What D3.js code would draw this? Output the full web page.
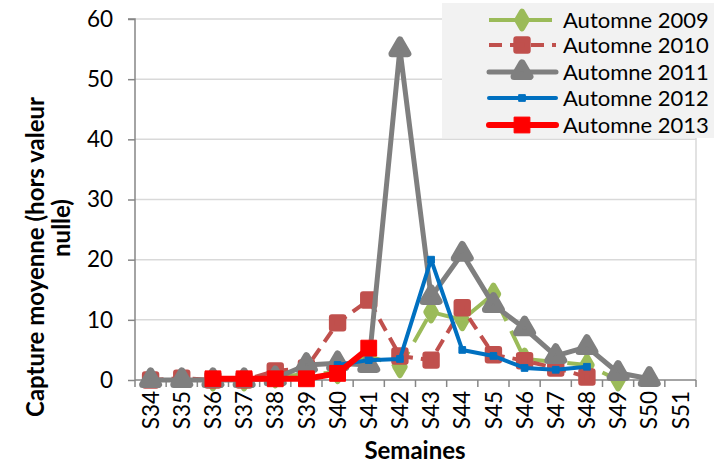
<!DOCTYPE html>
<html><head><meta charset="utf-8">
<script src="https://cdn.jsdelivr.net/npm/d3@7"></script>
<style>body{margin:0;background:#fff}svg{display:block}text{font-family:Lato,"Open Sans",sans-serif}</style>
</head><body><svg id="c" width="720" height="463"></svg>
<script>
const categories = ["S34","S35","S36","S37","S38","S39","S40","S41","S42","S43","S44","S45","S46","S47","S48","S49","S50","S51"];
const seriesNames = ["Automne 2009","Automne 2010","Automne 2011","Automne 2012","Automne 2013"];
const v2009 = [null,null,0,0,0.5,1,1.2,4,2.2,11.3,10,14.3,3.5,3,2.5,0,null,null];
const v2010 = [0,0.3,0,0,1.5,2,9.5,13.3,4,3.3,12,4.2,3.2,2,0.5,null,null,null];
const v2011 = [0,0,0,0,0.3,2.5,2.8,2.5,55,13.8,21,12.5,8.6,4,5.5,1.2,0.2,null];
const v2012 = [null,null,null,null,null,null,2.5,3.3,3.5,20,5,4,2,1.7,2.2,null,null,null];
const v2013 = [null,null,0.2,0.2,0.2,0.2,1.1,5.3,null,null,null,null,null,null,null,null,null,null];
const yTicks = [0,10,20,30,40,50,60];

const styles = [
  {color:"#9bbb59", width:4, dash:"26,11", sym:d3.symbolDiamond, size:80, sw:6},
  {color:"#c0504d", width:4, dash:"13,8", sym:d3.symbolSquare, size:130, sw:6},
  {color:"#7f7f7f", width:5, dash:null, sym:d3.symbolTriangle, size:110, sw:7},
  {color:"#0070c0", width:4, dash:null, sym:d3.symbolSquare, size:45, sw:1},
  {color:"#ff0000", width:6, dash:null, sym:d3.symbolSquare, size:250, sw:1}
];
const allVals = [v2009,v2010,v2011,v2012,v2013];

const svg = d3.select("#c");
const L=135, R=696, T=19, B=380;
const x = d3.scaleBand().domain(categories).range([L,R]);
const y = d3.scaleLinear().domain([0,60]).range([B,T]);

svg.append("g").selectAll("line").data(yTicks.filter(d=>d>0)).join("line")
  .attr("x1",L).attr("x2",R).attr("y1",d=>y(d)).attr("y2",d=>y(d))
  .attr("stroke","#d9d9d9").attr("stroke-width",1.5);
svg.append("line").attr("x1",R).attr("x2",R).attr("y1",T).attr("y2",B).attr("stroke","#d9d9d9").attr("stroke-width",1.5);

const ya = svg.append("g").attr("transform",`translate(${L},0)`)
  .call(d3.axisLeft(y).tickValues(yTicks).tickSize(7).tickPadding(15));
ya.select(".domain").attr("stroke","#868686").attr("stroke-width",1.5).attr("d",`M-7,${T}H0V${B}`);
ya.selectAll(".tick line").attr("stroke","#868686").attr("stroke-width",1.5);
ya.selectAll(".tick text").attr("font-size",22.5).attr("fill","#000").attr("font-family","Lato");

const xa = svg.append("g").attr("transform",`translate(0,${B})`)
  .call(d3.axisBottom(x).tickSize(0));
xa.select(".domain").attr("stroke","#868686").attr("stroke-width",1.5).attr("d",`M${L},0H${R}`);
xa.selectAll(".tick text").attr("font-size",22.5).attr("fill","#000").attr("font-family","Lato")
  .attr("transform","rotate(-90)").attr("text-anchor","end").attr("dy","0.36em").attr("x",-11).attr("y",0);
const bounds = categories.map(c=>x(c)).concat([R]);
svg.append("g").selectAll("line").data(bounds).join("line")
  .attr("x1",d=>d).attr("x2",d=>d).attr("y1",B).attr("y2",B+7)
  .attr("stroke","#868686").attr("stroke-width",1.5);

const cx = c=>x(c)+x.bandwidth()/2;
allVals.forEach((vals,i)=>{
  const st = styles[i];
  const pts = categories.map((c,j)=>({c,v:vals[j]})).filter(d=>d.v!==null);
  const line = d3.line().x(d=>cx(d.c)).y(d=>y(d.v));
  svg.append("path").datum(pts).attr("d",line).attr("fill","none")
    .attr("stroke",st.color).attr("stroke-width",st.width)
    .attr("stroke-dasharray",st.dash).attr("stroke-linejoin","round").attr("stroke-linecap",st.dash?"butt":"round");
  svg.append("g").selectAll("path").data(pts).join("path")
    .attr("transform",d=>`translate(${cx(d.c)},${y(d.v)})`)
    .attr("d",d3.symbol(st.sym,st.size)).attr("fill",st.color)
    .attr("stroke",st.color).attr("stroke-width",st.sw).attr("stroke-linejoin","round");
});

const lg = svg.append("g");
lg.append("rect").attr("x",442).attr("y",3).attr("width",272).attr("height",135).attr("fill","#f2f2f2");
const rows = [20,45,72,98,125];
seriesNames.forEach((n,i)=>{
  const st = styles[i], yy = rows[i];
  lg.append("line").attr("x1",489).attr("x2",556).attr("y1",yy).attr("y2",yy)
    .attr("stroke",st.color).attr("stroke-width",st.width).attr("stroke-dasharray",st.dash)
    .attr("stroke-linecap",st.dash?"butt":"round");
  lg.append("path").attr("transform",`translate(522,${yy})`).attr("d",d3.symbol(st.sym,st.size))
    .attr("fill",st.color).attr("stroke",st.color).attr("stroke-width",st.sw).attr("stroke-linejoin","round");
  lg.append("text").attr("x",563).attr("y",yy).attr("dy","0.36em").attr("font-size",22).text(n);
});

svg.append("text").attr("x",415).attr("y",459).attr("text-anchor","middle")
  .attr("font-size",24).attr("font-weight","bold").text("Semaines");
svg.append("text").attr("transform","translate(44,257) rotate(-90)").attr("text-anchor","middle")
  .attr("font-size",24).attr("font-weight","bold").text("Capture moyenne (hors valeur");
svg.append("text").attr("transform","translate(70,228) rotate(-90)").attr("text-anchor","middle")
  .attr("font-size",24).attr("font-weight","bold").text("nulle)");
</script></body></html>
